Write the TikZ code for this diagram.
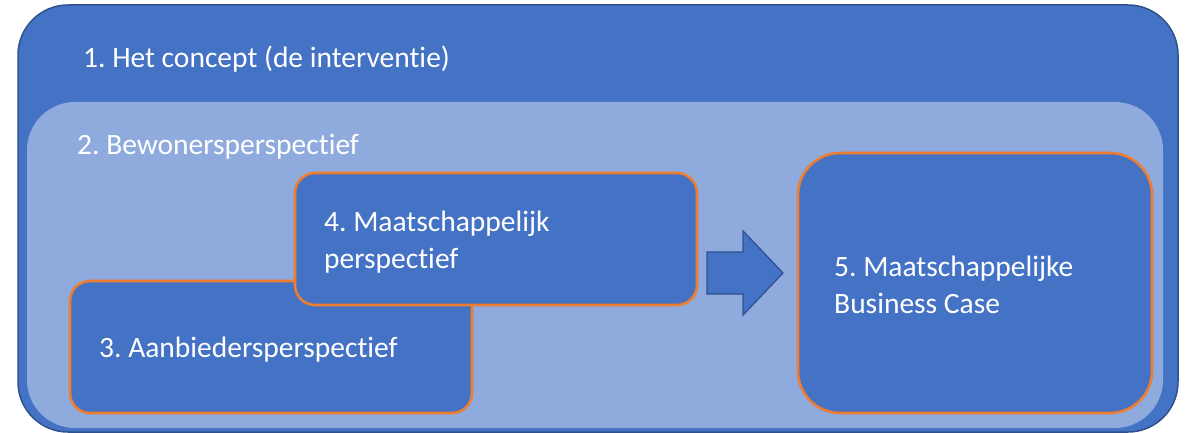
\documentclass[tikz,border=0pt]{standalone}
\usepackage{fontspec}
\setmainfont{Carlito}[Ligatures=NoCommon]
\definecolor{dblue}{HTML}{4472C4}
\definecolor{lblue}{HTML}{8FAADC}
\definecolor{bblue}{HTML}{2F528F}
\definecolor{orng}{HTML}{ED7D31}
\frenchspacing
\begin{document}
\begin{tikzpicture}[x=1pt,y=-1pt,
  boxstyle/.style={fill=dblue,draw=orng,line width=2.6pt,rounded corners=20pt},
  lbl/.style={text=white,anchor=base west,inner sep=0pt,align=left,
    font=\fontsize{29.5}{37}\selectfont}]
\useasboundingbox (0,0) rectangle (1187,433);
% outer concept box
\draw[fill=dblue,draw=bblue,line width=1.5pt,rounded corners=50pt] (18,5) rectangle (1178,432);
\coordinate (outer) at (18,5);
% resident perspective
\fill[lblue,rounded corners=48pt] (27,102) rectangle (1163,428);
% boxes
\draw[boxstyle] (70,281) rectangle (472,413);
\coordinate (b3) at (70,281);
\draw[boxstyle] (295,173) rectangle (697,305);
\coordinate (b4) at (295,173);
\draw[boxstyle,rounded corners=42pt] (798,153) rectangle (1152,413);
\coordinate (b5) at (798,153);
% block arrow
\draw[fill=dblue,draw=bblue,line width=1.3pt,line join=miter]
  (707,252) -- (743,252) -- (743,231) -- (783,273) -- (743,315) -- (743,294) -- (707,294) -- cycle;
% labels
\node[lbl] (t1) at (83,68) {1. Het concept (de interventie)};
\node[lbl] (t2) at (77,155) {2. Bewonersperspectief};
\node[lbl] (t3) at (99,357) {3. Aanbiedersperspectief};
\node[lbl] (t4) at (324,268) {4. Maatschappelijk\\perspectief};
\node[lbl] (t5) at (834,313) {5. Maatschappelijke\\Business Case};
\end{tikzpicture}
\end{document}
